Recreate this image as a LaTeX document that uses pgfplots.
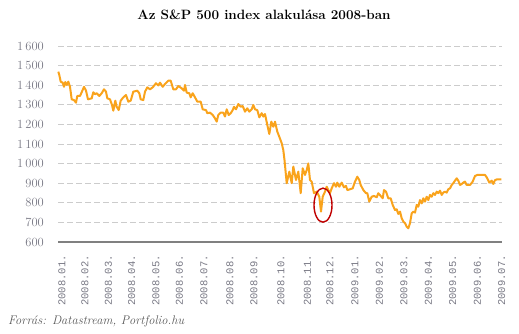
\documentclass[border=0pt]{standalone}
\usepackage{fontspec}
\usepackage{pgfplots}
\pgfplotsset{compat=1.18}
\newfontfamily\monof{Liberation Mono}
\definecolor{lineorange}{RGB}{249,163,28}
\definecolor{gridgray}{RGB}{204,204,204}
\definecolor{axisgray}{RGB}{128,128,128}
\definecolor{labelgray}{RGB}{120,120,132}
\definecolor{ovalred}{RGB}{192,0,0}
\definecolor{srcgray}{RGB}{90,90,90}
\begin{document}
\begin{tikzpicture}[x=1pt,y=1pt]
\path[use as bounding box] (0,0) rectangle (519,334);
\begin{axis}[
  at={(58pt,92pt)}, anchor=south west,
  scale only axis, width=444pt, height=196pt,
  xmin=58, xmax=502, ymin=600, ymax=1600,
  axis x line*=bottom, axis y line*=left,
  x axis line style={draw=axisgray, line width=1.1pt, -},
  y axis line style={draw=none},
  major tick length=0pt,
  ytick={600,700,...,1600},
  yticklabels={\oldstylenums{600},\oldstylenums{700},\oldstylenums{800},\oldstylenums{900},\oldstylenums{1}\,\oldstylenums{000},\oldstylenums{1}\,\oldstylenums{100},\oldstylenums{1}\,\oldstylenums{200},\oldstylenums{1}\,\oldstylenums{300},\oldstylenums{1}\,\oldstylenums{400},\oldstylenums{1}\,\oldstylenums{500},\oldstylenums{1}\,\oldstylenums{600}},
  ymajorgrids,
  major grid style={draw=gridgray, line width=0.9pt, dash pattern=on 5.5pt off 3.5pt},
  yticklabel style={font=\fontsize{12.5}{14}\selectfont, text=labelgray, inner sep=0pt, anchor=east, xshift=-14pt},
  xtick={62,85,108.3,131.7,156,179.3,204,230,254,281,307.3,330,355,379.3,404,428.3,452.7,477.3,501.7},
  xticklabels={2008.01.,2008.02.,2008.03.,2008.04.,2008.05.,2008.06.,2008.07.,2008.08.,2008.09.,2008.10.,2008.11.,2008.12.,2009.01.,2009.02.,2009.03.,2009.04.,2009.05.,2009.06.,2009.07.},
  xticklabel style={font=\monof\fontsize{10.5}{12}\selectfont, text=labelgray, rotate=90, anchor=east, inner sep=0pt},
  xticklabel shift=13pt,
  clip=false,
]
\addplot[lineorange, line width=2pt, line join=round] coordinates {
(58.3,1469)(59.3,1452)(60.7,1418)(62.7,1413)(64,1392)(65.3,1416)(66.7,1401)(68.3,1418)(70,1392)(71.7,1328)
(74,1324)(76,1311)(77.3,1345)(80,1345)(82.7,1376)(84,1392)(86,1372)(88,1328)(91.7,1333)(93.3,1364)
(95,1354)(96.7,1359)(99.3,1345)(101.7,1359)(104,1379)(106,1367)(107.3,1333)(110,1328)(112,1299)(113.3,1270)
(115.3,1321)(116.7,1290)(118.7,1273)(120.7,1321)(123.3,1338)(126,1350)(128.3,1316)(130.7,1321)(133.3,1367)(137.3,1372)
(139.3,1359)(140.7,1328)(143.3,1324)(145,1367)(147.3,1389)(150,1379)(152.7,1389)(156,1410)(158.3,1399)(160,1413)
(162.7,1392)(165,1406)(168.3,1423)(170.7,1423)(173.3,1379)(176,1379)(178.3,1396)(181.7,1384)(184,1372)(185,1401)
(186.7,1362)(189.3,1359)(190.7,1338)(192.7,1359)(195,1338)(197.3,1316)(200.7,1316)(202.7,1277)(206,1273)(207.3,1257)
(210,1260)(212.7,1248)(215,1231)(216.7,1214)(218.3,1248)(220.7,1260)(223.3,1260)(225,1240)(226.7,1277)(228.7,1248)
(230.7,1257)(232.7,1273)(234,1290)(236,1277)(238.3,1304)(240.7,1290)(242.7,1294)(245,1265)(247.3,1282)(249.3,1265)
(251.7,1277)(253.3,1299)(255,1277)(257.3,1273)(259.3,1236)(261.7,1257)(263.3,1240)(265,1253)(267.3,1197)(269.3,1151)
(271.3,1214)(273.3,1188)(275,1214)(277.3,1163)(279.3,1137)(281.7,1104)(283.3,1069)(284.5,1018)(286.7,900)(289.3,959)
(291.7,900)(293.3,985)(296,916)(298.3,959)(300.7,849)(302.7,976)(305,942)(306.7,967)(308.3,1001)(310,916)
(311.7,908)(314,849)(316.7,857)(319.3,831)(321,755)(322.7,831)(325,857)(326.7,882)(328.3,865)(330,849)
(331.7,874)(334,900)(336,882)(337.3,903)(339.3,882)(341.7,903)(344,879)(346,886)(347.3,865)(350,869)
(352.7,874)(355,908)(357.3,933)(359.3,916)(360.7,891)(363.3,865)(366,849)(367.3,849)(369.3,806)(371.7,831)
(374,835)(376.7,828)(378.3,849)(380.7,835)(382.7,823)(384,865)(386,857)(388.3,823)(390.7,823)(392.7,789)
(395,763)(396.7,767)(398.3,743)(400,755)(401.7,721)(403.3,704)(405,696)(406.7,678)(408.3,670)(410,696)
(411.7,746)(413.3,755)(415,750)(416.7,789)(418.3,780)(420,814)(421.7,797)(423.3,823)(425,806)(426.7,831)
(428.3,814)(430,840)(431.7,831)(433.3,849)(435,840)(436.7,857)(438.3,849)(440,862)(441.7,840)(443.3,852)
(445,857)(446.7,852)(448.3,869)(450,874)(451.7,891)(453.3,900)(455,913)(456.7,925)(458.3,913)(460,891)
(461.7,896)(463.3,903)(465,908)(466.7,891)(470,891)(472.7,908)(475,937)(477.3,942)(480,942)(482.7,942)
(485,942)(486.7,930)(489.3,903)(491.7,913)(493.3,896)(495,916)(497.3,920)(500,920)(501.3,920)
};
\draw[ovalred, line width=1.4pt] (axis cs:323,788) ellipse [x radius=9pt, y radius=17pt];
\end{axis}
\node[font=\bfseries\fontsize{13.5}{16}\selectfont] at (264,319) {Az S\&P \oldstylenums{500} index alakulása \oldstylenums{2008}-ban};
\node[anchor=base west, inner sep=0pt, text=srcgray, font=\itshape\fontsize{12.5}{14}\selectfont] at (8,9) {Forrás: Datastream, Portfolio.hu};
\end{tikzpicture}
\end{document}
